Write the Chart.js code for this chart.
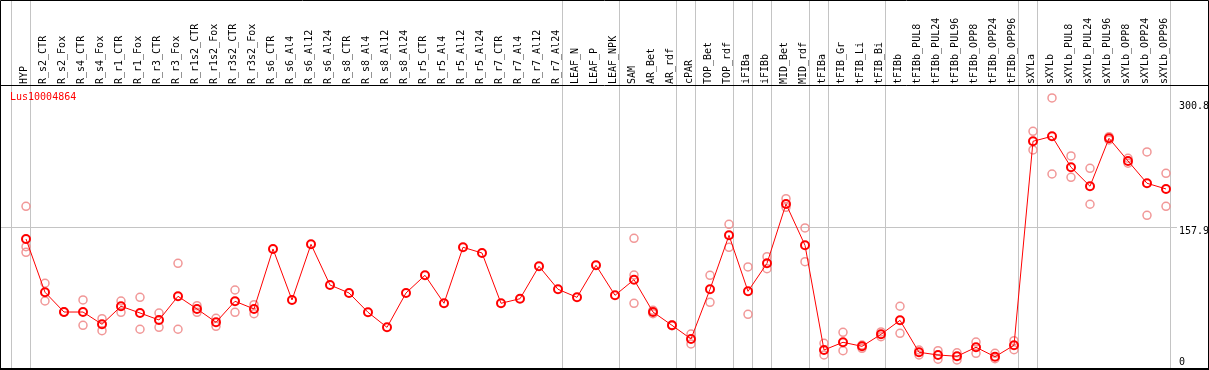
<!DOCTYPE html>
<html>
<head>
<meta charset="utf-8">
<script src="https://cdn.jsdelivr.net/npm/chart.js@4/dist/chart.umd.min.js"></script>
<style>
  html, body { margin: 0; padding: 0; background: #fff; }
  #wrap { width: 1209px; height: 370px; position: relative; }
  canvas { display: block; }
</style>
</head>
<body>
<div id="wrap"><canvas id="c" width="1209" height="370"></canvas></div>
<script>
const geneName = "Lus10004864";

const categories = [
  "HYP","R_s2_CTR","R_s2_Fox","R_s4_CTR","R_s4_Fox","R_r1_CTR","R_r1_Fox","R_r3_CTR","R_r3_Fox",
  "R_r1s2_CTR","R_r1s2_Fox","R_r3s2_CTR","R_r3s2_Fox",
  "R_s6_CTR","R_s6_Al4","R_s6_Al12","R_s6_Al24","R_s8_CTR","R_s8_Al4","R_s8_Al12","R_s8_Al24",
  "R_r5_CTR","R_r5_Al4","R_r5_Al12","R_r5_Al24","R_r7_CTR","R_r7_Al4","R_r7_Al12","R_r7_Al24",
  "LEAF_N","LEAF_P","LEAF_NPK","SAM","AR_Bet","AR_rdf","cPAR","TOP_Bet","TOP_rdf","iFIBa","iFIBb",
  "MID_Bet","MID_rdf","tFIBa","tFIB_Gr","tFIB_Li","tFIB_Bi","tFIBb",
  "tFIBb_PUL8","tFIBb_PUL24","tFIBb_PUL96","tFIBb_OPP8","tFIBb_OPP24","tFIBb_OPP96",
  "sXYLa","sXYLb","sXYLb_PUL8","sXYLb_PUL24","sXYLb_PUL96","sXYLb_OPP8","sXYLb_OPP24","sXYLb_OPP96"
];

const meanValues = [
  145.2, 84.3, 61.7, 61.7, 47.7, 68.3, 60.6, 52.6, 79.7,
  65.2, 50.0, 74.0, 65.2,
  133.8, 75.5, 139.1, 92.6, 83.5, 61.4, 44.2, 83.5,
  103.7, 71.7, 135.7, 129.2, 71.7, 76.9, 114.0, 87.7,
  78.5, 115.1, 80.8, 98.7, 61.7, 46.5, 30.9, 87.7, 149.4, 85.4, 117.4,
  185.2, 138.0, 18.3, 27.1, 22.5, 36.2, 52.2,
  15.7, 12.6, 11.1, 21.4, 10.6, 23.7,
  256.9, 262.6, 227.2, 205.5, 260.3, 234.4, 208.9, 202.4
];

const replicate1 = [
  182.6, 94.6, 61.7, 75.5, 54.1, 74.3, 78.5, 60.6, 117.4,
  68.9, 54.5, 86.9, 70.1,
  null, null, null, null, null, null, null, null,
  null, null, null, null, null, null, null, null,
  null, null, null, 146.0, 63.7, 46.9, 36.6, 103.7, 162.0, 113.2, 125.0,
  191.3, 157.8, 26.0, 38.5, 24.0, 38.9, 68.3,
  18.3, 17.5, 15.1, 27.4, 14.5, 28.9,
  268.3, 306.4, 240.1, 226.0, 262.2, 237.5, 244.7, 220.3
];

const replicate2 = [
  136.4, 74.3, 61.7, 46.5, 40.4, 61.4, 42.0, 44.2, 42.0,
  61.4, 45.4, 61.4, 59.8,
  null, null, null, null, null, null, null, null,
  null, null, null, null, null, null, null, null,
  null, null, null, 104.0, 59.8, 46.0, 25.2, 72.8, 135.7, 59.1, 111.2,
  181.4, 119.2, 12.6, 17.5, 20.2, 33.5, 37.4,
  12.6, 7.7, 6.9, 14.5, 8.3, 18.6,
  247.0, 219.5, 215.7, 184.9, 258.4, 231.8, 172.3, 182.6
];

const replicate3 = [
  130.0, null, null, null, null, null, null, null, null,
  null, null, null, null,
  null, null, null, null, null, null, null, null,
  null, null, null, null, null, null, null, null,
  null, null, null, 71.7, null, null, null, null, null, null, null,
  null, null, null, null, null, null, null,
  null, null, null, null, null, null,
  null, null, null, null, null, null, null, null
];

const yTickValues = [0, 157.9, 300.8];
const yGridValues = [157.9];
// index of the last category of each group (separator lines drawn after them); -1 = left edge
const groupEnds = [-1, 0, 28, 31, 34, 35, 37, 38, 39, 41, 42, 45, 52, 53, 60];

const FONT = '"DejaVu Sans Mono", "Liberation Mono", monospace';

function toPoints(arr) {
  const out = [];
  arr.forEach((v, i) => { if (v !== null && v !== undefined) out.push({ x: i, y: v }); });
  return out;
}

const repStyle = {
  showLine: false,
  pointRadius: 4,
  pointHoverRadius: 4,
  pointBorderWidth: 1.5,
  pointBorderColor: 'rgba(240,140,140,0.9)',
  pointBackgroundColor: 'rgba(0,0,0,0)',
  order: 2
};

const framePlugin = {
  id: 'frame',
  beforeDatasetsDraw(chart) {
    const ctx = chart.ctx;
    const xs = chart.scales.x;
    const ca = chart.chartArea;
    ctx.save();
    ctx.strokeStyle = '#c4c4c4';
    ctx.lineWidth = 1;
    groupEnds.forEach(i => {
      const px = Math.round(xs.getPixelForValue(i) + 4) + 0.5;
      ctx.beginPath();
      ctx.moveTo(px, 0);
      ctx.lineTo(px, ca.bottom);
      ctx.stroke();
    });
    ctx.restore();
  },
  afterDraw(chart) {
    const ctx = chart.ctx;
    const ys = chart.scales.y;
    const ca = chart.chartArea;
    const W = chart.width, H = chart.height;
    ctx.save();
    ctx.strokeStyle = '#000';
    ctx.lineWidth = 1;
    ctx.beginPath();
    ctx.rect(0.5, 0.5, W - 1, H - 1);
    ctx.moveTo(0, ca.top - 0.5);
    ctx.lineTo(W, ca.top - 0.5);
    ctx.stroke();
    ctx.lineWidth = 2;
    ctx.beginPath();
    ctx.moveTo(0, H - 1);
    ctx.lineTo(W, H - 1);
    ctx.stroke();
    ctx.font = '10px ' + FONT;
    ctx.fillStyle = '#000';
    ctx.textAlign = 'left';
    ctx.textBaseline = 'middle';
    yTickValues.forEach(v => {
      let py = ys.getPixelForValue(v) + 4;
      if (py > ca.bottom - 7) py = ca.bottom - 7;
      ctx.fillText(String(v), ca.right + 2, py);
    });
    ctx.fillStyle = '#ff0000';
    ctx.fillText(geneName, ca.left + 9, ca.top + 11);
    ctx.restore();
  }
};

new Chart(document.getElementById('c'), {
  type: 'line',
  data: {
    datasets: [
      {
        label: 'mean',
        data: toPoints(meanValues),
        borderColor: '#ff0000',
        borderWidth: 1,
        pointRadius: 4,
        pointHoverRadius: 4,
        pointBorderWidth: 2,
        pointBorderColor: '#ff0000',
        pointBackgroundColor: 'rgba(0,0,0,0)',
        tension: 0,
        order: 0
      },
      Object.assign({ label: 'rep1', data: toPoints(replicate1) }, repStyle),
      Object.assign({ label: 'rep2', data: toPoints(replicate2) }, repStyle),
      Object.assign({ label: 'rep3', data: toPoints(replicate3) }, repStyle)
    ]
  },
  options: {
    responsive: false,
    animation: false,
    events: [],
    layout: { autoPadding: false, padding: { left: 1, right: 0, top: 0, bottom: 1 } },
    plugins: { legend: { display: false }, tooltip: { enabled: false }, title: { display: false } },
    scales: {
      x: {
        type: 'linear',
        position: 'top',
        min: -25 / 19,
        max: 60 + 11 / 19,
        afterBuildTicks: s => { s.ticks = categories.map((_, i) => ({ value: i })); },
        afterFit: s => { s.height = 86; s.paddingLeft = 0; s.paddingRight = 0; },
        grid: { display: false, drawTicks: false },
        border: { display: false },
        ticks: {
          autoSkip: false,
          minRotation: 90,
          maxRotation: 90,
          padding: 2,
          labelOffset: 10,
          color: '#000',
          font: { family: FONT, size: 10 },
          callback: v => categories[v] !== undefined ? categories[v] : ''
        }
      },
      y: {
        type: 'linear',
        position: 'right',
        min: -3.43,
        max: 320.1,
        afterBuildTicks: s => { s.ticks = yGridValues.map(v => ({ value: v })); },
        afterFit: s => { s.width = 32; s.paddingTop = 0; s.paddingBottom = 0; },
        grid: { color: '#c4c4c4', drawTicks: false },
        border: { display: false },
        ticks: { display: false }
      }
    }
  },
  plugins: [framePlugin]
});
</script>
</body>
</html>
